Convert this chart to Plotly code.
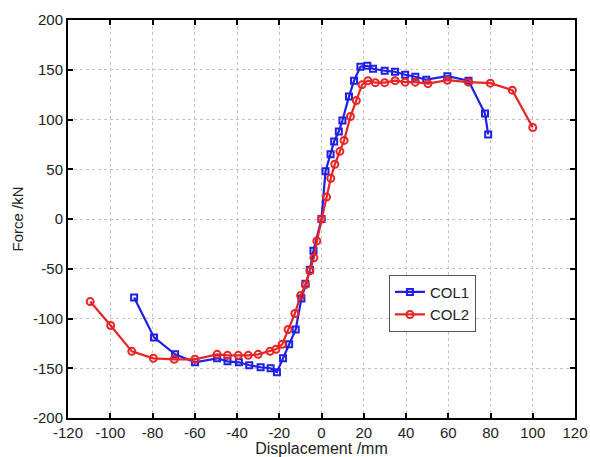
import plotly.graph_objects as go

col1_x = [-88.7, -79.3, -69.3, -59.9, -49.4, -44.5, -39.1, -34.2, -28.8, -24.1, -21.1, -18.2, -15.3,
          -12.2, -9.5, -7.6, -5.5, -3.8, 0, 1.9, 4.3, 6.0, 8.2, 9.9, 13.0, 15.4, 18.4, 21.7, 24.4,
          29.9, 34.8, 39.6, 44.4, 49.6, 59.6, 69.6, 77.4, 78.9]
col1_y = [-79, -119, -136, -144, -140, -143, -144, -147, -149, -150, -154, -140, -126,
          -111, -80, -65, -51, -32, 0, 48, 65, 78, 88, 99, 123, 139, 153, 154, 151,
          149, 148, 145, 143, 140, 143.5, 139, 106, 85]

col2_x = [-109.5, -99.8, -89.8, -79.6, -69.7, -59.9, -49.4, -44.5, -39.4, -34.7, -30.0, -24.4,
          -21.6, -18.6, -15.8, -12.6, -9.9, -7.6, -5.5, -3.6, -2.2, 0, 2.4, 4.4, 6.3, 8.7, 10.7,
          13.7, 16.5, 19.2, 22.0, 25.5, 29.9, 34.8, 39.6, 44.4, 50.4, 59.6, 69.6, 79.9, 90.3, 100.0]
col2_y = [-83, -107, -133, -140, -141, -141, -136, -137, -137, -137, -136, -133,
          -131, -126, -111, -95, -77, -66, -52, -39, -22, 0, 22, 41, 55, 68, 79,
          103, 119, 135, 139, 137, 137, 139, 137.5, 137.5, 136, 139.5, 137.5, 136.5, 129.5, 92]

x_ticks = list(range(-120, 121, 20))
x_ticktext = [str(v) for v in x_ticks]
y_ticks = list(range(-200, 201, 50))
y_ticktext = [str(v) for v in y_ticks]

font = "Liberation Sans, Arial, sans-serif"

fig = go.Figure()
fig.add_trace(go.Scatter(
    x=col1_x, y=col1_y, name="COL1", mode="lines+markers",
    line=dict(color="#1f1fe6", width=2.2),
    marker=dict(symbol="square-open", size=6, color="#1f1fe6", line=dict(width=2)),
))
fig.add_trace(go.Scatter(
    x=col2_x, y=col2_y, name="COL2", mode="lines+markers",
    line=dict(color="#e82424", width=2.2),
    marker=dict(symbol="circle-open", size=7, color="#e82424", line=dict(width=2)),
))

axis_common = dict(
    showgrid=True, gridcolor="#c4c4c4", griddash="dot", gridwidth=1,
    zeroline=False, showline=True, linecolor="black", linewidth=2, mirror="ticks",
    ticks="inside", ticklen=5, tickwidth=2, tickcolor="black", automargin=False,
    tickfont=dict(family=font, size=15, color="#222"),
)

fig.update_layout(
    width=590, height=457,
    margin=dict(l=68, r=15, t=20, b=39),
    paper_bgcolor="white", plot_bgcolor="white",
    font=dict(family=font, size=15, color="#222"),
    xaxis=dict(range=[-120, 120], tickvals=x_ticks, ticktext=x_ticktext, **axis_common,
               title=dict(text="Displacement /mm", font=dict(family=font, size=16, color="#222"), standoff=2)),
    yaxis=dict(range=[-200, 200], tickvals=y_ticks, ticktext=y_ticktext, **axis_common,
               title=dict(text="Force /kN", font=dict(family=font, size=15, color="#222"), standoff=6)),
    legend=dict(x=0.633, y=0.36, xanchor="left", yanchor="top",
                bgcolor="white", bordercolor="#555", borderwidth=1,
                font=dict(family=font, size=15, color="#222"), tracegroupgap=0),
    showlegend=True,
)

fig.write_html("out.html", config={"displayModeBar": False},
               post_script="document.body.style.margin='0';document.body.style.overflow='hidden';")
